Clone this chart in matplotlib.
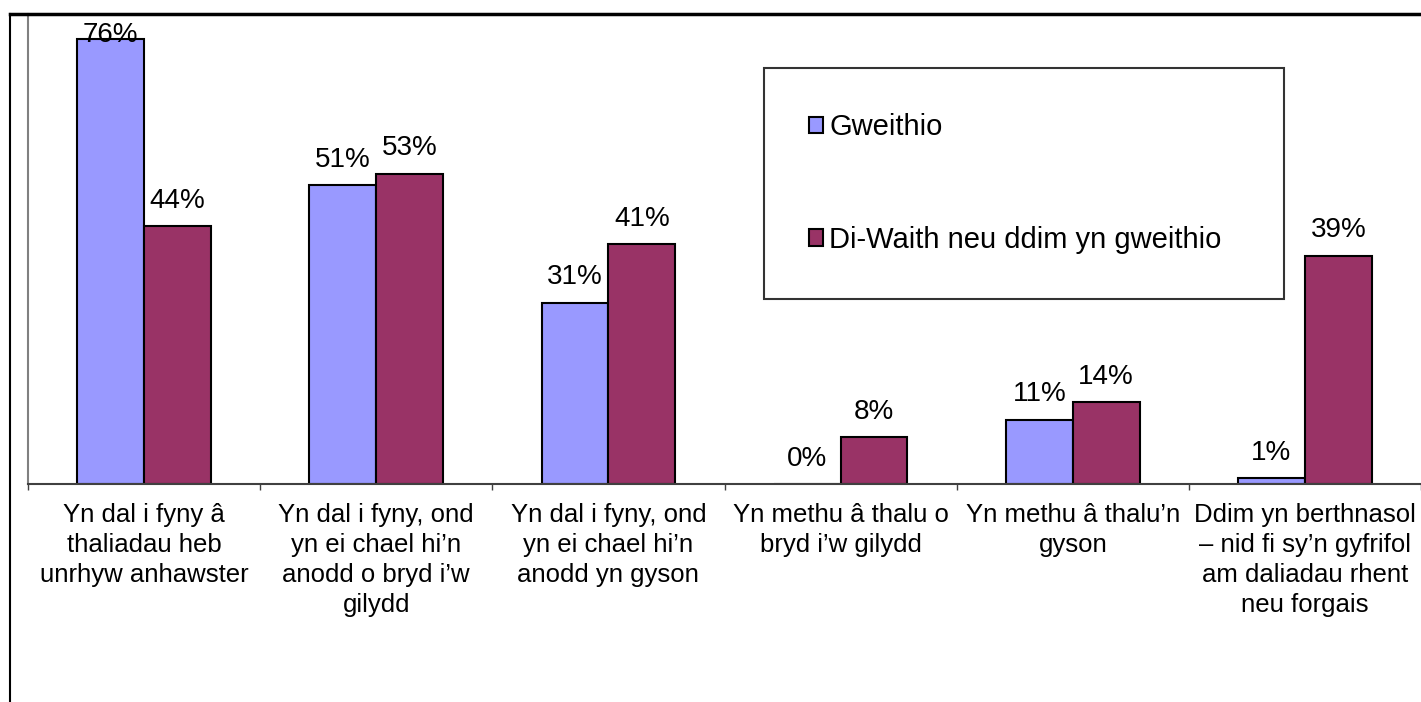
import matplotlib.pyplot as plt
from matplotlib.lines import Line2D
import numpy as np

plt.rcParams['font.family'] = ['Liberation Sans', 'DejaVu Sans']

categories = [
    "Yn dal i fyny â\nthaliadau heb\nunrhyw anhawster",
    "Yn dal i fyny, ond\nyn ei chael hi’n\nanodd o bryd i’w\ngilydd",
    "Yn dal i fyny, ond\nyn ei chael hi’n\nanodd yn gyson",
    "Yn methu â thalu o\nbryd i’w gilydd",
    "Yn methu â thalu’n\ngyson",
    "Ddim yn berthnasol\n– nid fi sy’n gyfrifol\nam daliadau rhent\nneu forgais",
]
series_names = ["Gweithio", "Di-Waith neu ddim yn gweithio"]
gweithio = [76, 51, 31, 0, 11, 1]
di_waith = [44, 53, 41, 8, 14, 39]

BLUE = '#9999FF'
PLUM = '#993366'
YMAX = 80.3

fig = plt.figure(figsize=(14.21, 7.02), dpi=100)
ax = fig.add_axes([28 / 1421, 218 / 702, 1393 / 1421, 470 / 702])

x = np.arange(len(categories))
w = 0.288
b1 = ax.bar(x - w / 2, gweithio, w, color=BLUE, edgecolor='black', linewidth=1.5,
            label=series_names[0])
b2 = ax.bar(x + w / 2, di_waith, w, color=PLUM, edgecolor='black', linewidth=1.5,
            label=series_names[1])

for bars, vals in ((b1, gweithio), (b2, di_waith)):
    for r, v in zip(bars, vals):
        cx = r.get_x() + r.get_width() / 2
        if v > YMAX - 8:
            # no room above the bar: excel pushes the label down inside the plot area
            ax.annotate(f"{v}%", (cx, YMAX), xytext=(0, -6), textcoords='offset points',
                        ha='center', va='top', fontsize=20)
        else:
            ax.annotate(f"{v}%", (cx, r.get_height()), xytext=(0, 9),
                        textcoords='offset points', ha='center', va='bottom', fontsize=20)

ax.set_xlim(-0.5, len(categories) - 0.5)
ax.set_ylim(0, YMAX)
ax.set_yticks([])

# boundary ticks, labels at the centres
ax.set_xticks(np.arange(len(categories) + 1) - 0.5)
ax.set_xticklabels([])
ax.tick_params(axis='x', which='major', direction='out', length=4.5, width=1, color='#404040')
ax.set_xticks(x, minor=True)
ax.set_xticklabels(categories, minor=True, fontsize=18.5, linespacing=1.3)
ax.tick_params(axis='x', which='minor', length=0, pad=14)

for s in ('top', 'right'):
    ax.spines[s].set_visible(False)
ax.spines['left'].set_color('#808080')
ax.spines['left'].set_linewidth(1.5)
ax.spines['bottom'].set_color('#404040')
ax.spines['bottom'].set_linewidth(1.5)

leg = ax.legend(loc='upper left', bbox_to_anchor=(0.528, 0.885, 0.374, 0.0), mode='expand',
                fontsize=21, frameon=True, fancybox=False, borderpad=1.55,
                labelspacing=2.9, handlelength=0.5, handleheight=0.5, handletextpad=0.2,
                borderaxespad=0)
leg.get_frame().set_edgecolor('black')
leg.get_frame().set_linewidth(1.5)

# outer chart border (left and top)
fig.add_artist(Line2D([10 / 1421, 10 / 1421], [0, 688 / 702], color='black', linewidth=1.5))
fig.add_artist(Line2D([10 / 1421, 1], [688 / 702, 688 / 702], color='black', linewidth=2.5))

fig.savefig('out.png', dpi=100)
